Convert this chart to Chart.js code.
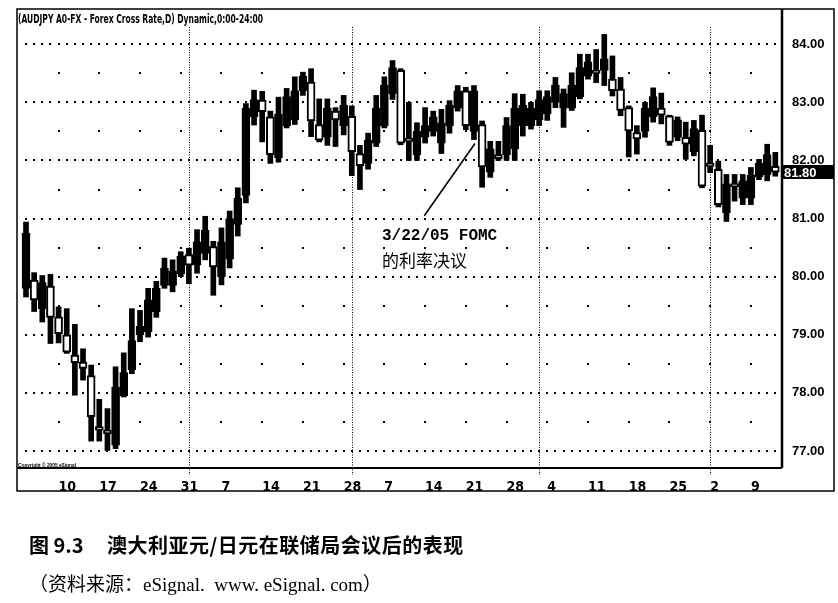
<!DOCTYPE html>
<html>
<head>
<meta charset="utf-8">
<script src="https://cdn.jsdelivr.net/npm/chart.js@4.4.0/dist/chart.umd.min.js"></script>
<style>
  body { margin: 0; background: #fff; width: 838px; height: 603px; position: relative; overflow: hidden; }
  #wrap { position: absolute; left: 0; top: 0; width: 838px; height: 500px; }
  .txt { position: absolute; white-space: nowrap; color: #000; line-height: 1; transform-origin: 0 0; }
  #title { left: 18px; top: 12px; font: bold 12px "Liberation Sans Narrow", "DejaVu Sans Condensed", "Liberation Sans", sans-serif; }
  #copy { left: 18px; top: 462px; font: bold 5px "Liberation Sans", sans-serif; }
  #note1 { left: 382px; top: 227px; font: bold 16px "Liberation Mono", "DejaVu Sans Mono", monospace; }
  #note2 { left: 382px; top: 247px; font: 17px "Noto Sans CJK SC", sans-serif; }
  #cap1a { left: 29px; top: 530px; font: bold 20px "Noto Sans CJK SC", sans-serif; }
  #cap1b { left: 107px; top: 530px; font: bold 20px "Noto Sans CJK SC", sans-serif; letter-spacing: 0.5px; }
  #cap2 { left: 29px; top: 569px; font: 19px "Liberation Serif", "Noto Sans CJK SC", serif; }
</style>
</head>
<body>
<div id="wrap"><canvas id="chart" width="838" height="500"></canvas></div>
<div class="txt" id="title">(AUDJPY A0-FX - Forex Cross Rate,D) Dynamic,0:00-24:00</div>
<div class="txt" id="copy">Copyright © 2005 eSignal</div>
<div class="txt" id="note1">3/22/05 FOMC</div>
<div class="txt" id="note2">的利率决议</div>
<div class="txt" id="cap1a">图 9.3</div>
<div class="txt" id="cap1b">澳大利亚元/日元在联储局会议后的表现</div>
<div class="txt" id="cap2">（资料来源：eSignal.&nbsp; www. eSignal. com）</div>
<script>
// AUDJPY daily, 2005
var dates = [
  '2005-01-04','2005-01-05','2005-01-06','2005-01-07',
  '2005-01-10','2005-01-11','2005-01-12','2005-01-13','2005-01-14',
  '2005-01-17','2005-01-18','2005-01-19','2005-01-20','2005-01-21',
  '2005-01-24','2005-01-25','2005-01-26','2005-01-27','2005-01-28',
  '2005-01-31','2005-02-01','2005-02-02','2005-02-03','2005-02-04',
  '2005-02-07','2005-02-08','2005-02-09','2005-02-10','2005-02-11',
  '2005-02-14','2005-02-15','2005-02-16','2005-02-17','2005-02-18',
  '2005-02-21','2005-02-22','2005-02-23','2005-02-24','2005-02-25',
  '2005-02-28','2005-03-01','2005-03-02','2005-03-03','2005-03-04',
  '2005-03-07','2005-03-08','2005-03-09','2005-03-10','2005-03-11',
  '2005-03-14','2005-03-15','2005-03-16','2005-03-17','2005-03-18',
  '2005-03-21','2005-03-22','2005-03-23','2005-03-24','2005-03-25',
  '2005-03-28','2005-03-29','2005-03-30','2005-03-31','2005-04-01',
  '2005-04-04','2005-04-05','2005-04-06','2005-04-07','2005-04-08',
  '2005-04-11','2005-04-12','2005-04-13','2005-04-14','2005-04-15',
  '2005-04-18','2005-04-19','2005-04-20','2005-04-21','2005-04-22',
  '2005-04-25','2005-04-26','2005-04-27','2005-04-28','2005-04-29',
  '2005-05-02','2005-05-03','2005-05-04','2005-05-05','2005-05-06',
  '2005-05-09','2005-05-10','2005-05-11','2005-05-12'
];
var opens = [
  79.80, 79.94, 79.45, 79.84, 79.31, 79.00, 78.65, 78.53, 78.30, 77.42,
  77.36, 77.10, 77.95, 78.40, 79.00, 79.05, 79.40, 79.85, 79.85, 80.05,
  80.38, 80.20, 80.40, 80.52, 80.00, 80.30, 80.90, 81.40, 82.75, 83.04,
  82.75, 82.05, 82.60, 82.70, 83.20, 83.35, 82.62, 82.40, 82.85, 82.60,
  82.76, 82.12, 81.95, 82.30, 82.60, 83.15, 83.55, 82.38, 82.10, 82.40,
  82.50, 82.30, 82.60, 82.90, 83.20, 82.50, 82.62, 81.80, 82.10, 82.10,
  82.20, 82.60, 82.60, 82.70, 82.80, 83.00, 82.90, 82.90, 83.10, 83.45,
  83.55, 83.55, 83.40, 83.23, 82.91, 82.48, 82.50, 82.75, 82.90, 82.77,
  82.40, 82.40, 82.15, 82.52, 81.95, 81.85, 81.10, 81.60, 81.35, 81.35,
  81.72, 81.75, 81.90
];
var highs = [
  80.94, 80.07, 80.02, 80.04, 79.48, 79.45, 79.18, 78.76, 78.48, 77.89,
  77.73, 78.45, 78.69, 79.45, 79.42, 79.80, 79.92, 80.32, 80.29, 80.43,
  80.49, 80.81, 81.04, 80.61, 80.84, 81.13, 81.53, 82.98, 83.21, 83.19,
  82.85, 83.09, 83.24, 83.44, 83.52, 83.58, 83.06, 83.06, 82.91, 83.12,
  82.94, 82.26, 82.47, 83.12, 83.44, 83.72, 83.58, 83.00, 82.65, 82.91,
  82.85, 82.88, 83.03, 83.29, 83.26, 83.29, 82.68, 82.33, 82.33, 82.74,
  83.15, 83.14, 83.00, 83.20, 83.20, 83.43, 83.23, 83.51, 83.83, 83.83,
  83.91, 84.17, 83.80, 83.43, 82.94, 82.60, 83.00, 83.25, 83.16, 82.78,
  82.75, 82.66, 82.69, 82.78, 82.26, 81.99, 81.76, 81.76, 81.76, 81.88,
  82.02, 82.28, 82.14
];
var lows = [
  79.65, 79.40, 79.22, 78.85, 78.86, 78.68, 77.96, 78.22, 77.17, 77.17,
  77.01, 77.04, 77.93, 78.33, 78.88, 78.96, 79.30, 79.80, 79.74, 80.00,
  79.88, 80.06, 80.29, 79.68, 79.86, 80.15, 80.70, 81.27, 82.61, 82.32,
  81.95, 81.97, 82.56, 82.62, 83.12, 82.41, 82.32, 82.26, 82.24, 82.44,
  81.74, 81.50, 81.85, 82.24, 82.56, 83.05, 82.27, 82.00, 82.00, 82.30,
  82.42, 82.12, 82.47, 82.85, 82.53, 82.36, 81.54, 81.71, 82.00, 82.00,
  82.00, 82.42, 82.54, 82.60, 82.69, 82.91, 82.57, 82.86, 83.06, 83.40,
  83.34, 83.29, 83.11, 82.77, 82.06, 82.11, 82.40, 82.66, 82.63, 82.26,
  82.34, 82.02, 82.08, 81.53, 81.79, 81.20, 80.95, 81.30, 81.24, 81.24,
  81.67, 81.65, 81.73
];
var closes = [
  80.75, 79.60, 79.90, 79.30, 79.02, 78.70, 78.52, 78.42, 77.59, 77.36,
  77.30, 78.10, 78.35, 78.90, 79.15, 79.60, 79.80, 80.15, 80.10, 80.35,
  80.20, 80.60, 80.80, 80.17, 80.60, 81.00, 81.35, 82.90, 83.05, 82.84,
  82.10, 82.80, 83.10, 83.20, 83.45, 82.68, 82.35, 82.90, 82.70, 82.95,
  82.15, 81.91, 82.35, 82.90, 83.30, 83.60, 82.30, 82.33, 82.50, 82.60,
  82.75, 82.65, 82.95, 83.20, 82.60, 83.20, 81.89, 82.20, 82.03, 82.60,
  82.90, 82.95, 82.90, 83.05, 83.10, 83.30, 83.15, 83.30, 83.60, 83.70,
  83.50, 83.75, 83.20, 82.86, 82.51, 82.37, 82.90, 83.10, 82.78, 82.31,
  82.70, 82.28, 82.55, 81.56, 81.90, 81.24, 81.60, 81.55, 81.65, 81.75,
  81.95, 82.10, 81.80
];

// axis labels
var tickDates = ['2005-01-10','2005-01-17','2005-01-24','2005-01-31','2005-02-07','2005-02-14',
  '2005-02-21','2005-02-28','2005-03-07','2005-03-14','2005-03-21','2005-03-28','2005-04-04',
  '2005-04-11','2005-04-18','2005-04-25','2005-05-02','2005-05-09'];
var tickLabels = ['10','17','24','31','7','14','21','28','7','14','21','28','4','11','18','25','2','9'];
var monthStarts = ['2005-02-01','2005-03-01','2005-04-01','2005-05-02'];
var priceTicks = [77, 78, 79, 80, 81, 82, 83, 84];
var lastPrice = 81.80;
var fomcDate = '2005-03-22';
var noteAnchor = {x: 48.9, y: 81.05}; // end of the pointer line (index, price)

var tickIdx = tickDates.map(function(d) { return dates.indexOf(d) });
var monthIdx = monthStarts.map(function(d) { return dates.indexOf(d) });
var labelFor = {};
tickIdx.forEach(function(v, k) { labelFor[v] = tickLabels[k] });

var wickData = dates.map(function(d, i) { return {x: i, y: [lows[i], highs[i]]} });
var bodyData = dates.map(function(d, i) {
  return {x: i, y: [Math.min(opens[i], closes[i]), Math.max(opens[i], closes[i])]}
});
var bodyFill = dates.map(function(d, i) { return closes[i] >= opens[i] ? '#000' : '#fff' });

var decor = {
  id: 'decor',
  beforeDatasetsDraw: function(chart) {
    var ctx = chart.ctx, a = chart.chartArea, x = chart.scales.x, y = chart.scales.y;
    ctx.save();
    ctx.fillStyle = '#000';
    // dotted price lines
    priceTicks.forEach(function(p) {
      var py = Math.round(y.getPixelForValue(p));
      for (var i = -1; i <= dates.length; i++) {
        var px = Math.round(x.getPixelForValue(i));
        if (px > a.left + 3 && px < a.right - 3) ctx.fillRect(px - 1, py - 1, 2, 2);
      }
    });
    // weekly dots at half prices
    tickIdx.forEach(function(i) {
      var px = Math.round(x.getPixelForValue(i));
      for (var p = 76.5; p < 85; p += 1) {
        var py = Math.round(y.getPixelForValue(p));
        if (py > a.top + 18 && py < a.bottom) ctx.fillRect(px - 1, py - 1, 2, 2);
      }
    });
    // month separators
    ctx.strokeStyle = '#000';
    ctx.lineWidth = 1;
    ctx.setLineDash([1, 1.5]);
    monthIdx.forEach(function(i) {
      var px = Math.round(x.getPixelForValue(i)) + 0.5;
      ctx.beginPath();
      ctx.moveTo(px, a.top + 17);
      ctx.lineTo(px, a.bottom + 8);
      ctx.stroke();
    });
    ctx.restore();
  },
  afterDraw: function(chart) {
    var ctx = chart.ctx, a = chart.chartArea, x = chart.scales.x, y = chart.scales.y;
    ctx.save();
    ctx.strokeStyle = '#000';
    // outer frame
    ctx.lineWidth = 1.5;
    ctx.strokeRect(a.left, a.top - 1, 834 - a.left, 491 - a.top + 1);
    // plot bottom and price axis line
    ctx.lineWidth = 2;
    ctx.beginPath();
    ctx.moveTo(a.left, a.bottom + 1);
    ctx.lineTo(a.right, a.bottom + 1);
    ctx.stroke();
    ctx.lineWidth = 2.5;
    ctx.beginPath();
    ctx.moveTo(a.right, a.top - 1);
    ctx.lineTo(a.right, a.bottom + 1);
    ctx.stroke();
    // pointer to the FOMC day
    var fi = dates.indexOf(fomcDate);
    ctx.lineWidth = 1.6;
    ctx.beginPath();
    ctx.moveTo(x.getPixelForValue(fi) + 1, y.getPixelForValue(lows[fi]) + 4);
    ctx.lineTo(x.getPixelForValue(noteAnchor.x), y.getPixelForValue(noteAnchor.y));
    ctx.stroke();
    // last price box
    var ly = Math.round(y.getPixelForValue(lastPrice));
    ctx.fillStyle = '#000';
    ctx.fillRect(a.right, ly - 7, 834 - a.right, 14);
    ctx.fillStyle = '#fff';
    ctx.font = 'bold 13px "Liberation Sans", Arial, sans-serif';
    ctx.textBaseline = 'middle';
    ctx.fillText(lastPrice.toFixed(2), a.right + 2, ly + 1);
    ctx.restore();
  }
};

var ctx = document.getElementById('chart').getContext('2d');
var myChart = new Chart(ctx, {
  type: 'bar',
  data: {
    labels: dates,
    datasets: [{
      label: 'range',
      data: wickData,
      backgroundColor: '#000',
      barThickness: 5,
      grouped: false,
      order: 2
    }, {
      label: 'body',
      data: bodyData,
      backgroundColor: bodyFill,
      borderColor: '#000',
      borderWidth: 2,
      borderSkipped: false,
      barThickness: 8,
      minBarLength: 3,
      grouped: false,
      order: 1
    }]
  },
  options: {
    responsive: false,
    animation: false,
    layout: {padding: {left: 17, top: 10, right: 4, bottom: 9}},
    plugins: {legend: {display: false}, tooltip: {enabled: false}},
    scales: {
      x: {
        type: 'linear',
        min: -1.105,
        max: 92.82,
        offset: false,
        grid: {display: false},
        border: {display: false},
        afterBuildTicks: function(scale) {
          scale.ticks = tickIdx.map(function(v) { return {value: v} });
        },
        afterFit: function(scale) { scale.height = 24 },
        ticks: {
          autoSkip: false,
          maxRotation: 0,
          align: 'start',
          padding: 4,
          color: '#000',
          font: {family: '"Liberation Sans Narrow", "DejaVu Sans Condensed", "Liberation Sans", sans-serif', weight: 'bold', size: 14},
          callback: function(v) { return labelFor[v] }
        }
      },
      y: {
        type: 'linear',
        position: 'right',
        min: 76.725,
        max: 84.59,
        grid: {display: false},
        border: {display: false},
        afterBuildTicks: function(scale) {
          scale.ticks = priceTicks.map(function(v) { return {value: v} });
        },
        afterFit: function(scale) { scale.width = 52 },
        ticks: {
          padding: 2,
          color: '#000',
          font: {family: '"Liberation Sans", Arial, sans-serif', weight: 'bold', size: 13},
          callback: function(v) { return v.toFixed(2) }
        }
      }
    }
  },
  plugins: [decor]
});

// squeeze the narrow chart texts to the widths they take in the print
function fit(id, w) {
  var el = document.getElementById(id);
  var cur = el.getBoundingClientRect().width;
  if (cur > 0) el.style.transform = 'scaleX(' + (w / cur) + ')';
}
fit('title', 245);
fit('copy', 58);
</script>
</body>
</html>
